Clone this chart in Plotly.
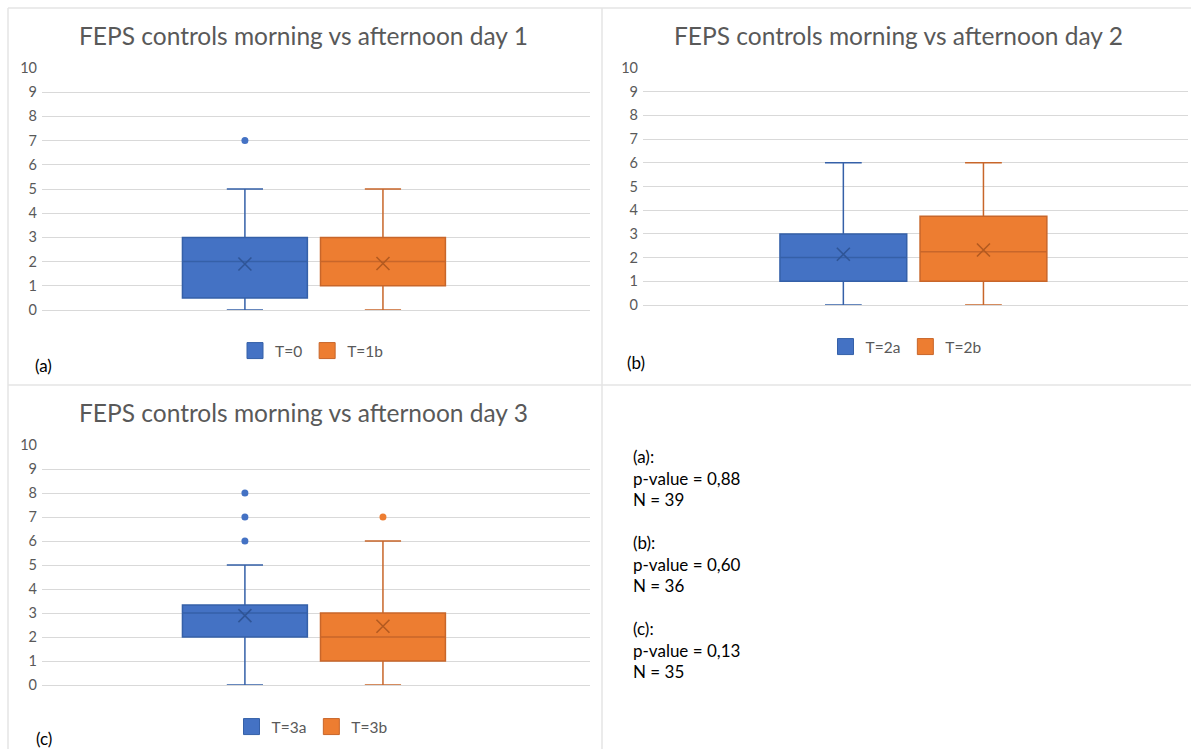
import plotly.graph_objects as go

W, H = 1191, 749

titles = ["FEPS controls morning vs afternoon day 1",
          "FEPS controls morning vs afternoon day 2",
          "FEPS controls morning vs afternoon day 3"]
panel_labels = ["(a)", "(b)", "(c)"]
series_names = [["T=0", "T=1b"], ["T=2a", "T=2b"], ["T=3a", "T=3b"]]
q1_vals = [[0.5, 1], [1, 1], [2, 1]]
median_vals = [[2, 2], [2, 2.25], [3, 2]]
q3_vals = [[3, 3], [3, 3.75], [3.33, 3]]
lower_vals = [[0, 0], [0, 0], [0, 0]]
upper_vals = [[5, 5], [6, 6], [5, 6]]
mean_vals = [[1.9, 1.92], [2.14, 2.32], [2.89, 2.45]]
outlier_vals = [[[7], []], [[], []], [[6, 7, 8], [7]]]
y_ticks = list(range(0, 11))

stats_lines = ["(a):", "p-value = 0,88", "N = 39",
               "(b):", "p-value = 0,60", "N = 36",
               "(c):", "p-value = 0,13", "N = 35"]

fills = ["#4472c4", "#ed7d31"]
borders = ["#3560a8", "#c8662a"]
dark = ["#2f5597", "#b35a20"]

# pixel layout of each panel: (left, right, top(y=10), bottom(y=0))
panel_px = [(42, 590, 68, 310), (643, 1188, 68, 305), (42, 590, 445, 685)]
xranges = [[-1.47, 2.5], [-1.43, 2.46], [-1.47, 2.5]]
title_px = [(303, 35), (898, 35), (303, 413)]
legend_px = [(312, 351), (906, 347), (312, 727)]
label_px = [(33, 365), (625, 362), (34, 738)]

fig = go.Figure()
layout = dict(width=W, height=H, margin=dict(l=0, r=0, t=0, b=0, autoexpand=False),
              paper_bgcolor="white", plot_bgcolor="white",
              boxmode="overlay",
              font=dict(family="Lato, Liberation Sans, sans-serif", color="#595959"),
              annotations=[], shapes=[], showlegend=True)

for p in range(3):
    sfx = "" if p == 0 else str(p + 1)
    xa, ya = "x" + sfx, "y" + sfx
    leg = "legend" + sfx
    for s in range(2):
        name = series_names[p][s]
        fig.add_trace(go.Box(
            x=[name], q1=[q1_vals[p][s]], median=[median_vals[p][s]], q3=[q3_vals[p][s]],
            lowerfence=[lower_vals[p][s]], upperfence=[upper_vals[p][s]],
            name=name, xaxis=xa, yaxis=ya, showlegend=False, width=0.905,
            fillcolor=fills[s], line=dict(color=borders[s], width=1.5),
            whiskerwidth=0.29, boxpoints=False, hoverinfo="skip"))
    for s in range(2):
        name = series_names[p][s]
        fig.add_trace(go.Scatter(
            x=[name], y=[mean_vals[p][s]], mode="markers", xaxis=xa, yaxis=ya,
            marker=dict(symbol="x-thin", size=13, line=dict(color=dark[s], width=1.6)),
            showlegend=False, hoverinfo="skip"))
        if outlier_vals[p][s]:
            fig.add_trace(go.Scatter(
                x=[name] * len(outlier_vals[p][s]), y=outlier_vals[p][s], mode="markers",
                xaxis=xa, yaxis=ya, marker=dict(size=7, color=fills[s]),
                showlegend=False, hoverinfo="skip"))
    # legend entries (square swatches like the original)
    for s in range(2):
        fig.add_trace(go.Scatter(
            x=[None], y=[None], mode="markers", name=series_names[p][s],
            xaxis=xa, yaxis=ya, legend=leg,
            marker=dict(symbol="square", size=16, color=fills[s],
                        line=dict(color=borders[s], width=1)),
            hoverinfo="skip"))

    l, r, t, b = panel_px[p]
    layout["xaxis" + sfx] = dict(domain=[l / W, r / W], anchor=ya, type="category",
                                 categoryorder="array", categoryarray=series_names[p],
                                 range=xranges[p], showticklabels=False, showgrid=False,
                                 zeroline=False, showline=False, fixedrange=True)
    layout["yaxis" + sfx] = dict(domain=[1 - b / H, 1 - t / H], anchor=xa, range=[0, 10],
                                 tickvals=y_ticks, showgrid=True, gridcolor="#d9d9d9",
                                 gridwidth=1.3, zeroline=True, zerolinecolor="#d9d9d9",
                                 zerolinewidth=1.3, showline=False, ticks="",
                                 ticklabelstandoff=4,
                                 tickfont=dict(size=14.5, color="#595959"), fixedrange=True)
    lx, ly = legend_px[p]
    layout[leg] = dict(orientation="h", x=lx / W, y=1 - ly / H, xanchor="center",
                       yanchor="middle", bgcolor="rgba(0,0,0,0)",
                       font=dict(size=15.5, color="#595959"), itemwidth=30)
    tx, ty = title_px[p]
    layout["annotations"].append(dict(text=titles[p], x=tx / W, y=1 - ty / H, xref="paper",
                                      yref="paper", showarrow=False, xanchor="center",
                                      yanchor="middle", font=dict(size=24.5, color="#595959")))
    px_, py_ = label_px[p]
    layout["annotations"].append(dict(text=panel_labels[p], x=px_ / W, y=1 - py_ / H,
                                      xref="paper", yref="paper", showarrow=False,
                                      xanchor="left", yanchor="middle",
                                      font=dict(size=17, color="#000000")))

# stats text panel
line_y = [456, 478, 499, 542, 564, 585, 628, 650, 671]
for txt, yy in zip(stats_lines, line_y):
    layout["annotations"].append(dict(text=txt, x=631 / W, y=1 - yy / H, xref="paper",
                                      yref="paper", showarrow=False, xanchor="left",
                                      yanchor="middle", font=dict(size=17, color="#000000")))

# panel separators
sep = "#e4e4e4"
for x0, y0, x1, y1 in [(602, 8, 602, 749), (8, 385, 1191, 385), (8, 8, 1191, 8), (8, 8, 8, 749)]:
    layout["shapes"].append(dict(type="line", xref="paper", yref="paper",
                                 x0=x0 / W, x1=x1 / W, y0=1 - y0 / H, y1=1 - y1 / H,
                                 line=dict(color=sep, width=1.5)))

fig.update_layout(**layout)
fig.write_html("out.html", config={"displayModeBar": False},
               post_script="document.body.style.margin='0px';")
